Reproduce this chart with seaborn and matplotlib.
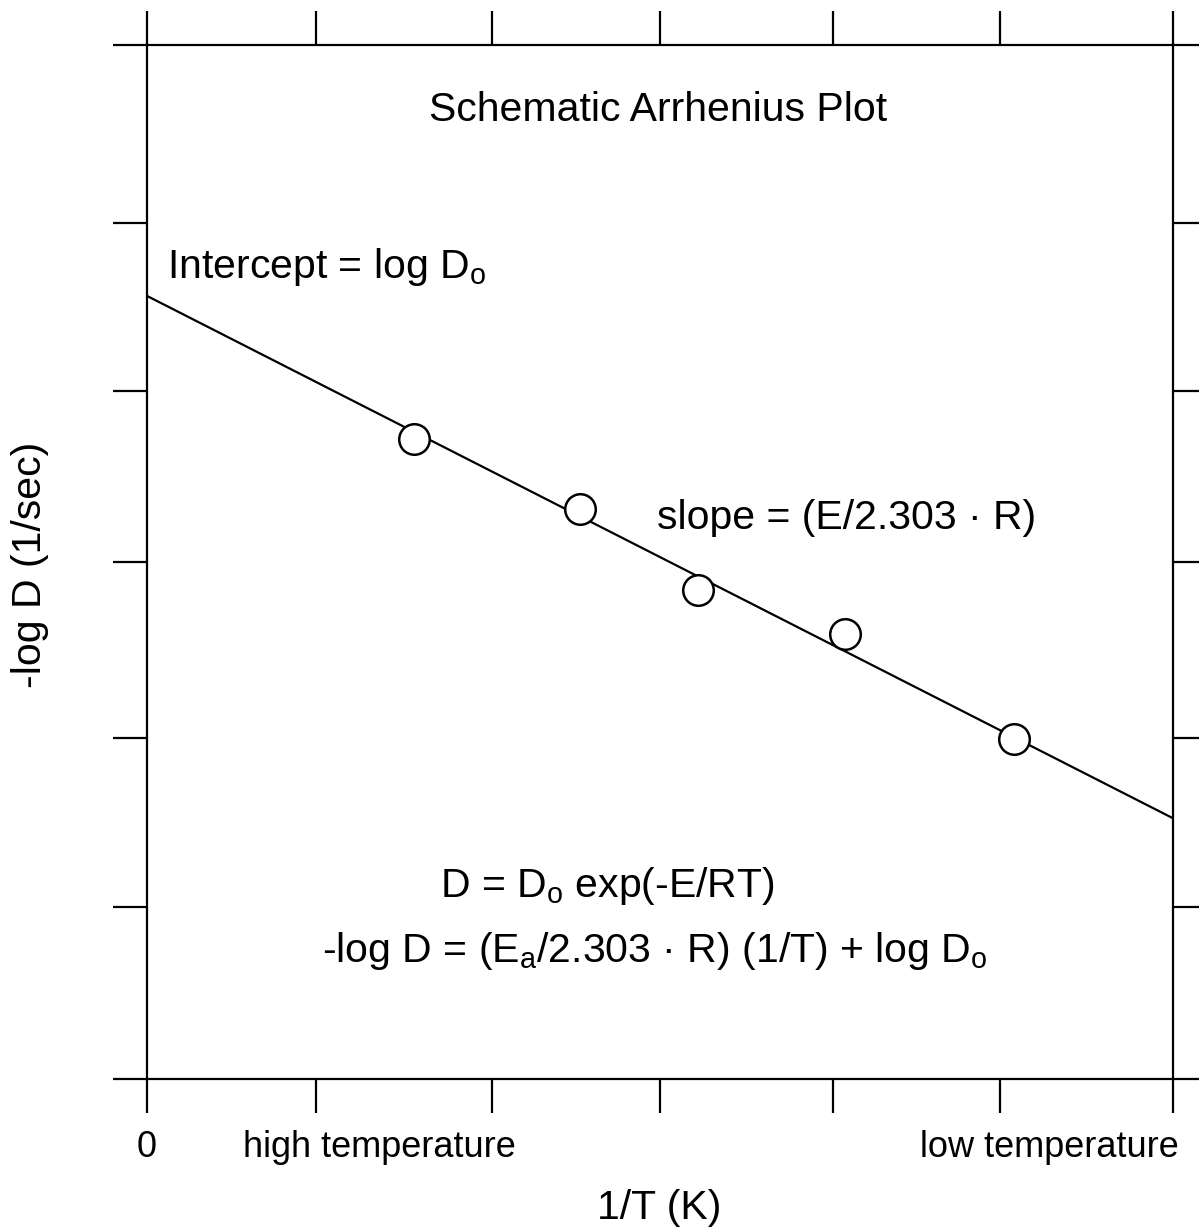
import matplotlib
matplotlib.use("Agg")
import matplotlib.pyplot as plt
import seaborn as sns

# ---- data ----
fit_x = [0.0, 6.0]
fit_y = [4.544, 1.513]
pts_x = [1.561, 2.532, 3.224, 4.082, 5.072]
pts_y = [3.714, 3.308, 2.838, 2.582, 1.973]
xtick_vals = [0, 0.99, 2.02, 3.0, 4.01, 4.99, 6]
ytick_vals = [0, 1.0, 1.98, 3.0, 3.99, 4.97, 6]
xlabels_text = ["0", "high temperature", "low temperature"]
xlabels_pos = [0.0, 1.357, 5.275]

sns.set_theme(style="white")
plt.rcParams['font.family'] = ['Liberation Sans', 'DejaVu Sans']
plt.rcParams['text.color'] = 'black'
plt.rcParams['mathtext.fontset'] = 'custom'
plt.rcParams['mathtext.rm'] = 'Liberation Sans'
plt.rcParams['mathtext.it'] = 'Liberation Sans'
plt.rcParams['mathtext.default'] = 'regular'

fig = plt.figure(figsize=(12.02, 12.29), dpi=100)
fig.patch.set_facecolor('white')
ax = fig.add_axes([147/1202, 150/1229, (1173-147)/1202, (1079-45)/1229])
ax.set_facecolor('white')

sns.lineplot(x=fit_x, y=fit_y, color='black', linewidth=1.6, ax=ax, zorder=2)
sns.scatterplot(x=pts_x, y=pts_y, s=22**2, marker='o', facecolor='white',
                edgecolor='black', linewidth=1.8, zorder=3, ax=ax)

ax.set_xlim(0, 6)
ax.set_ylim(0, 6)
ax.set_xticks(xtick_vals)
ax.set_yticks(ytick_vals)
ax.tick_params(axis='both', which='major', direction='out', width=1.6,
               color='black', labelbottom=False, labelleft=False,
               labeltop=False, labelright=False,
               bottom=True, top=True, left=True, right=True)
ax.tick_params(axis='x', length=24.5)
ax.tick_params(axis='y', length=24.5)
for sp in ax.spines.values():
    sp.set_visible(True)
    sp.set_color('black')
    sp.set_linewidth(1.6)
ax.set_xlabel('')
ax.set_ylabel('')

for t in ax.yaxis.get_major_ticks():
    t.tick2line.set_markersize(19)

fs = 29.5
tc = 'black'
ax.text(2.988, 5.559, "Schematic Arrhenius Plot", ha='center', va='baseline', fontsize=fs, color=tc)
ax.text(0.117, 4.648, r"Intercept = log D$_o$", ha='left', va='baseline', fontsize=fs, color=tc)
ax.text(2.982, 3.192, "slope = (E/2.303 \u00b7 R)", ha='left', va='baseline', fontsize=fs, color=tc)
ax.text(1.713, 1.056, r"D = D$_o$ exp(-E/RT)", ha='left', va='baseline', fontsize=fs, color=tc)
ax.text(1.023, 0.679, "-log D = (E$_a$/2.303 \u00b7 R) (1/T) + log D$_o$",
        ha='left', va='baseline', fontsize=fs, color=tc)

for lbl, xp in zip(xlabels_text, xlabels_pos):
    ax.text(xp, -0.453, lbl, ha='center', va='baseline', fontsize=26, clip_on=False, color=tc)

ax.text(2.994, -0.812, "1/T (K)", ha='center', va='baseline', fontsize=fs, clip_on=False, color=tc)
ax.text(-0.684, 2.983, "-log D (1/sec)", ha='center', va='center', rotation=90,
        fontsize=fs, clip_on=False, color=tc)

fig.savefig("out.png", dpi=100, facecolor='white')
